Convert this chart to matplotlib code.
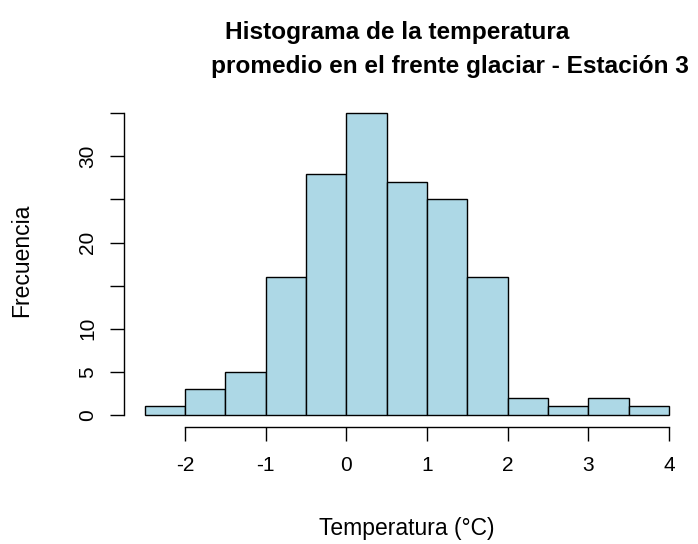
import matplotlib
matplotlib.use('Agg')
import numpy as np
import matplotlib.pyplot as plt

matplotlib.rcParams['font.family'] = ['Liberation Sans', 'DejaVu Sans']

# bin edges and counts of the histogram
bin_edges = [-2.5, -2.0, -1.5, -1.0, -0.5, 0.0, 0.5, 1.0, 1.5, 2.0, 2.5, 3.0, 3.5, 4.0]
counts = [1, 3, 5, 16, 28, 35, 27, 25, 16, 2, 1, 2, 1]
x_ticks = [-2, -1, 0, 1, 2, 3, 4]
y_ticks = [0, 5, 10, 15, 20, 25, 30, 35]
y_labels = ['0', '5', '10', '', '20', '', '30', '']

W, H = 698, 544
fig = plt.figure(figsize=(W / 100, H / 100), dpi=100)
ax = fig.add_axes([0.177, 0.215, 0.8115, 0.599])

left = np.array(bin_edges[:-1])
widths = np.diff(bin_edges)
ax.bar(left, counts, width=widths, align='edge', color='#ADD8E6',
       edgecolor='black', linewidth=1.0)

# R style: 4% extension, axes drawn only over tick range
xr = bin_edges[-1] - bin_edges[0]
ax.set_xlim(bin_edges[0] - 0.04 * xr, bin_edges[-1] + 0.04 * xr)
yr = 35
ax.set_ylim(-0.04 * yr, yr + 0.04 * yr)

for s in ['top', 'right']:
    ax.spines[s].set_visible(False)
ax.spines['left'].set_bounds(0, 35)
ax.spines['bottom'].set_bounds(-2, 4)
ax.spines['left'].set_linewidth(1.0)
ax.spines['bottom'].set_linewidth(1.0)

ax.set_xticks(x_ticks)
ax.set_xticklabels([str(v) for v in x_ticks])
ax.set_yticks(y_ticks)
ax.set_yticklabels(y_labels, rotation=90, va='center')
ax.tick_params(axis='both', direction='out', length=10, width=1.0,
               labelsize=15)
ax.tick_params(axis='x', pad=11)
ax.tick_params(axis='y', pad=9)

fig.text(407 / W, 1 - 528 / H, 'Temperatura (°C)', ha='center', va='center', fontsize=16.5)
fig.text(22 / W, 1 - 260 / H, 'Frecuencia', ha='center', va='center',
         rotation=90, fontsize=16.5)

fig.text(397 / W, 1 - 33 / H, 'Histograma de la temperatura',
         ha='center', va='center', fontsize=17.6, fontweight='bold')
fig.text(450 / W, 1 - 67 / H, 'promedio en el frente glaciar - Estación 3',
         ha='center', va='center', fontsize=17.6, fontweight='bold')

plt.savefig('out.png', dpi=100)
